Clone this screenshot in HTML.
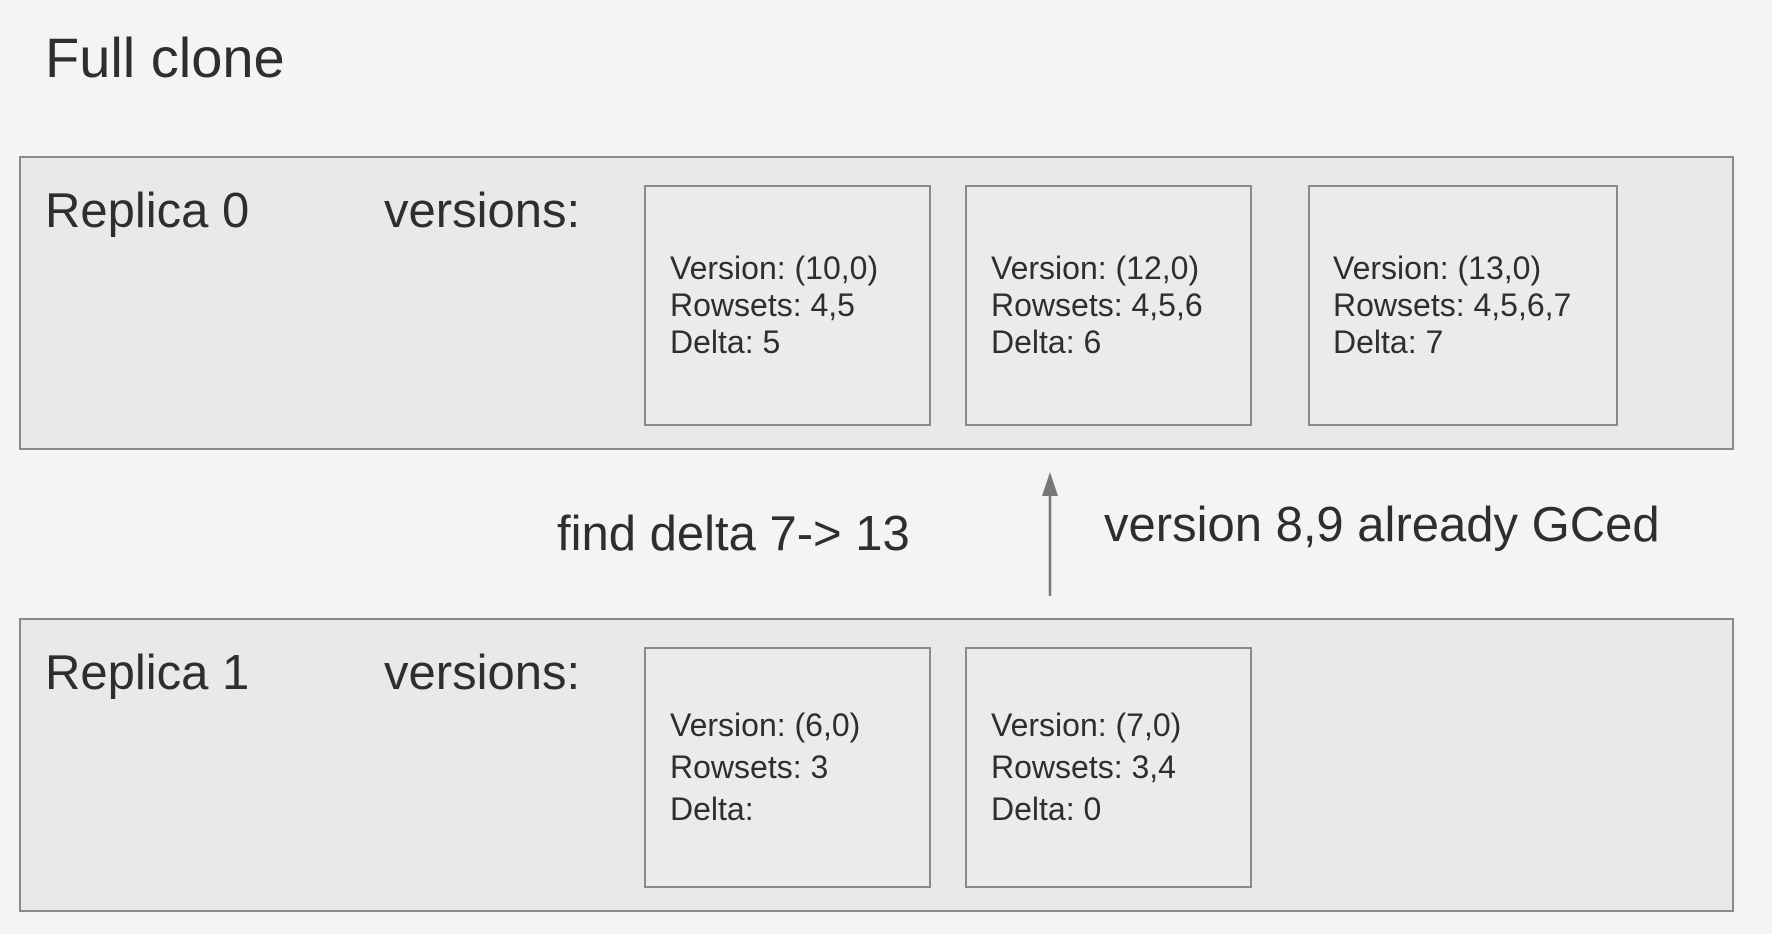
<!DOCTYPE html>
<html><head><meta charset="utf-8"><style>
body{margin:0;width:1772px;height:934px;background:#f4f4f4;position:relative;overflow:hidden;font-family:"Liberation Sans",sans-serif;color:#2e2e2e}
.a{position:absolute;white-space:nowrap}
.box{position:absolute;background:#e9e9e9;border:2px solid #8a8a8a;box-sizing:border-box}
.in{position:absolute;background:#ebebeb;border:2px solid #8a8a8a;box-sizing:border-box}
.t{position:absolute;font-size:32px;line-height:37px;white-space:nowrap}
</style></head><body>
<div class="a" style="left:45px;top:25px;font-size:56px">Full clone</div>

<div class="box" style="left:19px;top:156px;width:1715px;height:294px"></div>
<div class="a" style="left:45px;top:183px;font-size:49px">Replica 0</div>
<div class="a" style="left:384px;top:183px;font-size:49px">versions:</div>
<div class="in" style="left:644px;top:185px;width:287px;height:241px"></div>
<div class="in" style="left:965px;top:185px;width:287px;height:241px"></div>
<div class="in" style="left:1308px;top:185px;width:310px;height:241px"></div>
<div class="t" style="left:670px;top:250px">Version: (10,0)<br>Rowsets: 4,5<br>Delta: 5</div>
<div class="t" style="left:991px;top:250px">Version: (12,0)<br>Rowsets: 4,5,6<br>Delta: 6</div>
<div class="t" style="left:1333px;top:250px">Version: (13,0)<br>Rowsets: 4,5,6,7<br>Delta: 7</div>

<svg class="a" style="left:0;top:0" width="1772" height="934"><line x1="1050" y1="596" x2="1050" y2="490" stroke="#777" stroke-width="2.5"/><polygon points="1050,472 1042,496 1058,496" fill="#777"/></svg>
<div class="a" style="left:557px;top:506px;font-size:49px">find delta 7-&gt; 13</div>
<div class="a" style="left:1104px;top:497px;font-size:49px">version 8,9 already GCed</div>

<div class="box" style="left:19px;top:618px;width:1715px;height:294px"></div>
<div class="a" style="left:45px;top:645px;font-size:49px">Replica 1</div>
<div class="a" style="left:384px;top:645px;font-size:49px">versions:</div>
<div class="in" style="left:644px;top:647px;width:287px;height:241px"></div>
<div class="in" style="left:965px;top:647px;width:287px;height:241px"></div>
<div class="t" style="left:670px;top:704px;line-height:42px">Version: (6,0)<br>Rowsets: 3<br>Delta:</div>
<div class="t" style="left:991px;top:704px;line-height:42px">Version: (7,0)<br>Rowsets: 3,4<br>Delta: 0</div>
</body></html>
